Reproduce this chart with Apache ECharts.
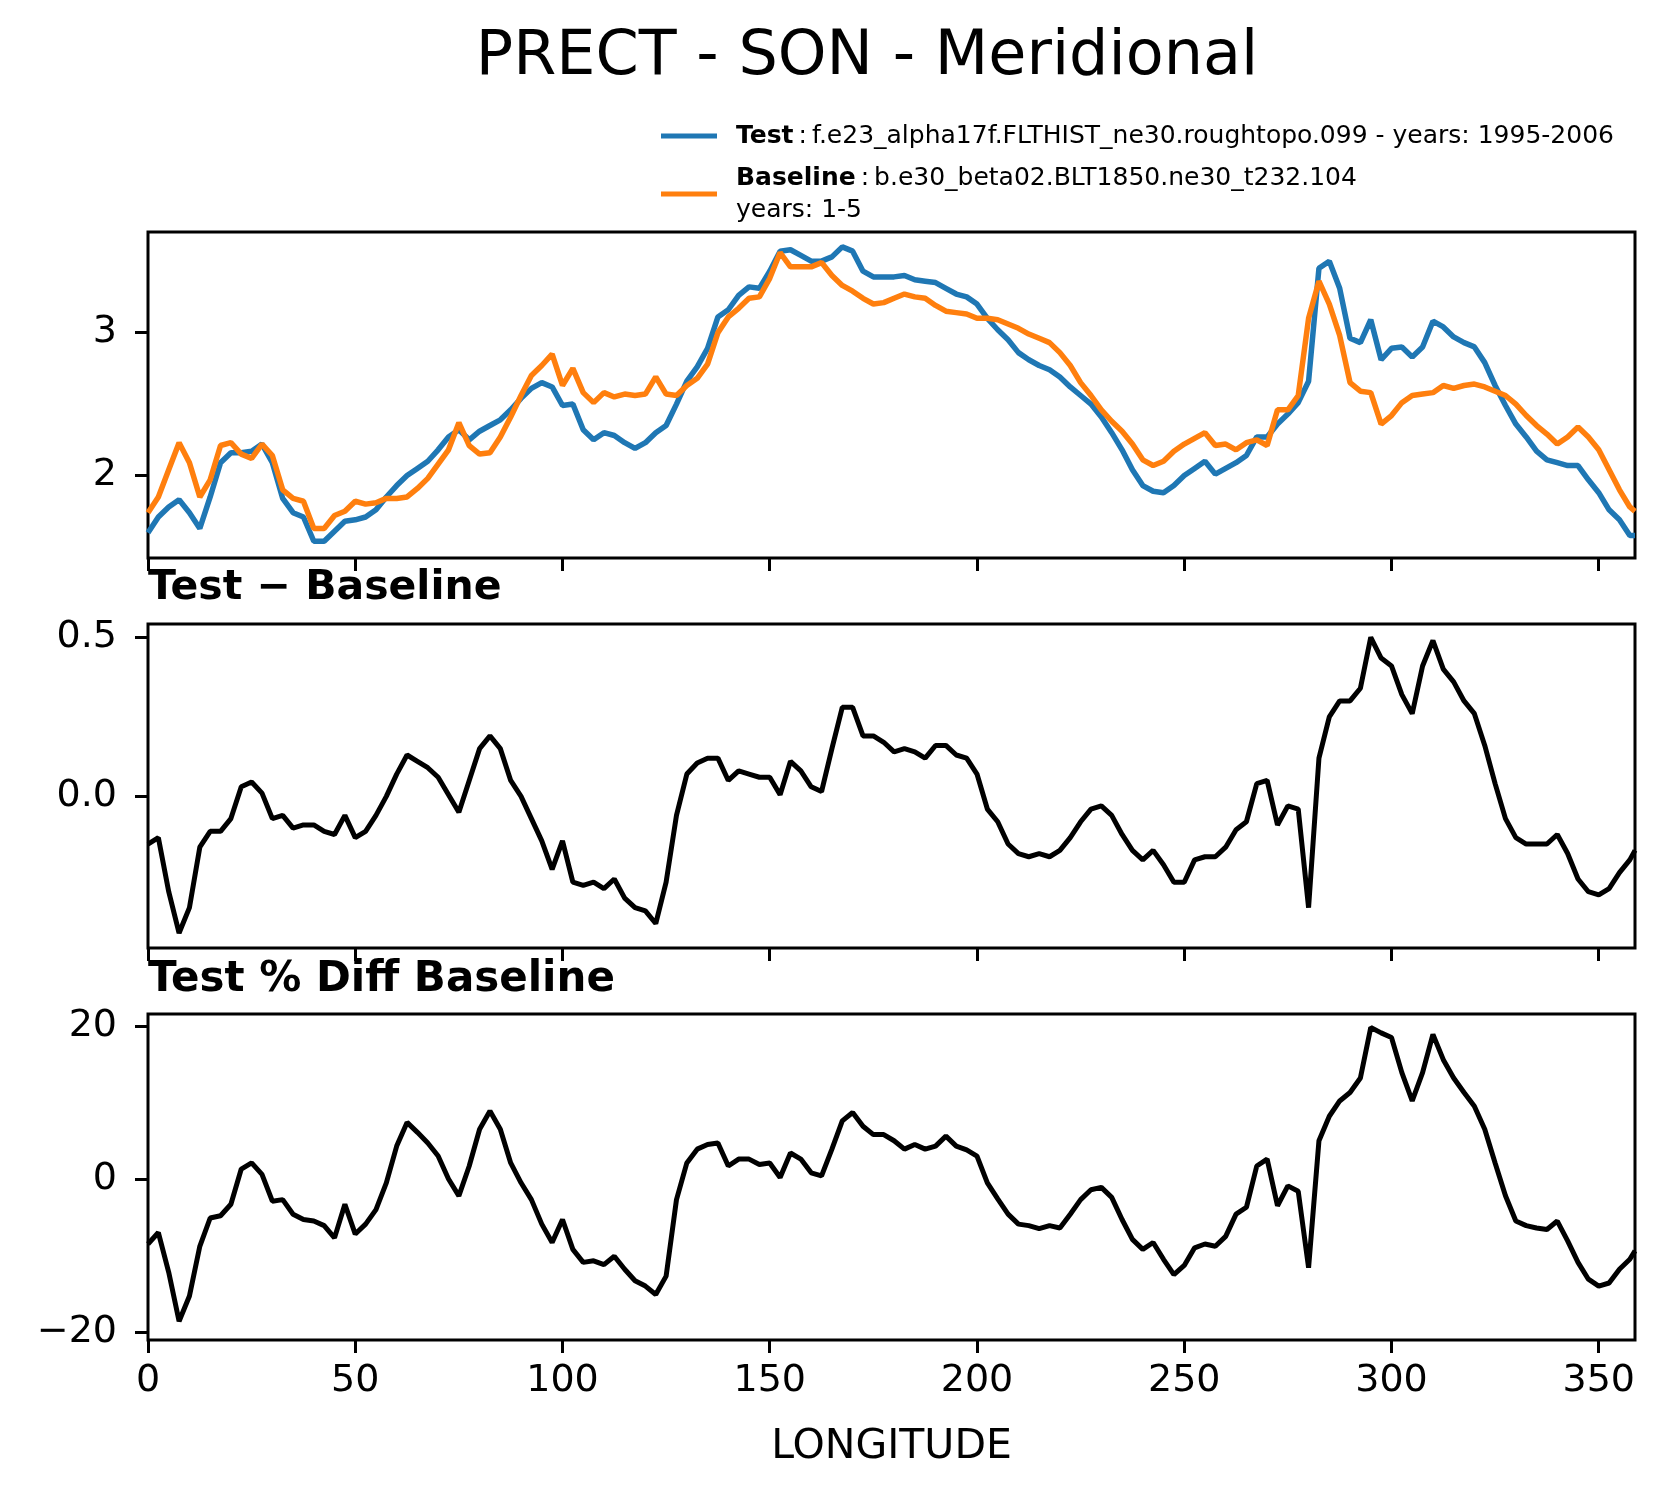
<!DOCTYPE html>
<html>
<head>
<meta charset="utf-8">
<title>PRECT - SON - Meridional</title>
<script src="https://cdn.jsdelivr.net/npm/echarts@6/dist/echarts.min.js"></script>
<style>
  html, body { margin: 0; padding: 0; background: #fff; }
  #chart { width: 1668px; height: 1496px; }
</style>
</head>
<body>
<div id="chart"></div>
<script>
// longitude grid (deg)
var lon = [0, 2.5, 5, 7.5, 10, 12.5, 15, 17.5, 20, 22.5,
  25, 27.5, 30, 32.5, 35, 37.5, 40, 42.5, 45, 47.5,
  50, 52.5, 55, 57.5, 60, 62.5, 65, 67.5, 70, 72.5,
  75, 77.5, 80, 82.5, 85, 87.5, 90, 92.5, 95, 97.5,
  100, 102.5, 105, 107.5, 110, 112.5, 115, 117.5, 120, 122.5,
  125, 127.5, 130, 132.5, 135, 137.5, 140, 142.5, 145, 147.5,
  150, 152.5, 155, 157.5, 160, 162.5, 165, 167.5, 170, 172.5,
  175, 177.5, 180, 182.5, 185, 187.5, 190, 192.5, 195, 197.5,
  200, 202.5, 205, 207.5, 210, 212.5, 215, 217.5, 220, 222.5,
  225, 227.5, 230, 232.5, 235, 237.5, 240, 242.5, 245, 247.5,
  250, 252.5, 255, 257.5, 260, 262.5, 265, 267.5, 270, 272.5,
  275, 277.5, 280, 282.5, 285, 287.5, 290, 292.5, 295, 297.5,
  300, 302.5, 305, 307.5, 310, 312.5, 315, 317.5, 320, 322.5,
  325, 327.5, 330, 332.5, 335, 337.5, 340, 342.5, 345, 347.5,
  350, 352.5, 355, 357.5, 358.75];

// precipitation, test case
var test = [1.60, 1.71, 1.78, 1.83, 1.74, 1.63, 1.85, 2.09, 2.16, 2.16,
  2.17, 2.22, 2.09, 1.84, 1.74, 1.71, 1.54, 1.54, 1.61, 1.68,
  1.69, 1.71, 1.76, 1.85, 1.93, 2.00, 2.05, 2.10, 2.18, 2.27,
  2.32, 2.25, 2.31, 2.35, 2.39, 2.46, 2.54, 2.61, 2.65, 2.62,
  2.49, 2.50, 2.32, 2.25, 2.30, 2.28, 2.23, 2.19, 2.23, 2.30,
  2.35, 2.50, 2.66, 2.76, 2.89, 3.11, 3.16, 3.26, 3.32, 3.31,
  3.43, 3.57, 3.58, 3.54, 3.50, 3.50, 3.53, 3.60, 3.57, 3.43,
  3.39, 3.39, 3.39, 3.40, 3.37, 3.36, 3.35, 3.31, 3.27, 3.25,
  3.20, 3.10, 3.02, 2.95, 2.86, 2.81, 2.77, 2.74, 2.69, 2.62,
  2.56, 2.50, 2.41, 2.30, 2.18, 2.04, 1.93, 1.89, 1.88, 1.93,
  2.00, 2.05, 2.10, 2.01, 2.05, 2.09, 2.14, 2.27, 2.27, 2.36,
  2.43, 2.51, 2.66, 3.45, 3.50, 3.31, 2.96, 2.93, 3.09, 2.81,
  2.89, 2.90, 2.83, 2.90, 3.08, 3.04, 2.97, 2.93, 2.90, 2.79,
  2.63, 2.49, 2.36, 2.27, 2.17, 2.11, 2.09, 2.07, 2.07, 1.97,
  1.88, 1.76, 1.69, 1.58, 1.58];

// precipitation, baseline
var base = [1.74, 1.85, 2.04, 2.23, 2.09, 1.85, 1.97, 2.21, 2.23, 2.15,
  2.12, 2.22, 2.14, 1.90, 1.84, 1.82, 1.63, 1.63, 1.72, 1.75,
  1.82, 1.80, 1.81, 1.84, 1.84, 1.85, 1.91, 1.98, 2.08, 2.18,
  2.37, 2.21, 2.15, 2.16, 2.27, 2.41, 2.56, 2.70, 2.77, 2.85,
  2.63, 2.75, 2.58, 2.51, 2.58, 2.55, 2.57, 2.56, 2.57, 2.69,
  2.57, 2.56, 2.63, 2.68, 2.78, 3.00, 3.11, 3.17, 3.24, 3.25,
  3.38, 3.56, 3.46, 3.46, 3.46, 3.49, 3.40, 3.33, 3.29, 3.24,
  3.20, 3.21, 3.24, 3.27, 3.25, 3.24, 3.19, 3.15, 3.14, 3.13,
  3.10, 3.10, 3.09, 3.06, 3.03, 2.99, 2.96, 2.93, 2.86, 2.77,
  2.65, 2.56, 2.46, 2.38, 2.31, 2.22, 2.11, 2.07, 2.10, 2.17,
  2.22, 2.26, 2.30, 2.21, 2.22, 2.18, 2.23, 2.25, 2.21, 2.46,
  2.46, 2.56, 3.10, 3.36, 3.20, 2.98, 2.65, 2.59, 2.58, 2.36,
  2.42, 2.51, 2.56, 2.57, 2.58, 2.63, 2.61, 2.63, 2.64, 2.62,
  2.59, 2.56, 2.50, 2.42, 2.35, 2.29, 2.22, 2.27, 2.34, 2.27,
  2.18, 2.04, 1.90, 1.78, 1.75];

// test - baseline
var diff = [-0.15, -0.13, -0.30, -0.43, -0.35, -0.16, -0.11, -0.11, -0.07, 0.03,
  0.045, 0.01, -0.07, -0.06, -0.10, -0.09, -0.09, -0.11, -0.12, -0.06,
  -0.13, -0.11, -0.06, 0.00, 0.07, 0.13, 0.11, 0.09, 0.06, 0.005,
  -0.05, 0.05, 0.15, 0.19, 0.15, 0.05, 0.00, -0.07, -0.14, -0.23,
  -0.14, -0.27, -0.28, -0.27, -0.29, -0.26, -0.32, -0.35, -0.36, -0.40,
  -0.27, -0.06, 0.07, 0.105, 0.12, 0.12, 0.05, 0.08, 0.07, 0.06,
  0.06, 0.005, 0.11, 0.08, 0.03, 0.015, 0.15, 0.28, 0.28, 0.19,
  0.19, 0.17, 0.14, 0.15, 0.14, 0.12, 0.16, 0.16, 0.13, 0.12,
  0.07, -0.04, -0.08, -0.15, -0.18, -0.19, -0.18, -0.19, -0.17, -0.13,
  -0.08, -0.04, -0.03, -0.06, -0.12, -0.17, -0.20, -0.17, -0.215, -0.27,
  -0.27, -0.20, -0.19, -0.19, -0.16, -0.105, -0.08, 0.04, 0.05, -0.09,
  -0.03, -0.04, -0.35, 0.12, 0.25, 0.30, 0.30, 0.34, 0.50, 0.435,
  0.41, 0.32, 0.26, 0.41, 0.49, 0.40, 0.36, 0.30, 0.26, 0.16,
  0.04, -0.07, -0.13, -0.15, -0.15, -0.15, -0.12, -0.18, -0.26, -0.30,
  -0.31, -0.29, -0.24, -0.20, -0.17];

// test % diff baseline
var pctDiff = [-8.5, -7.0, -12.2, -18.6, -15.3, -8.8, -5.1, -4.8, -3.3, 1.3,
  2.1, 0.6, -2.9, -2.7, -4.6, -5.3, -5.5, -6.1, -7.7, -3.3,
  -7.2, -5.9, -4.0, -0.5, 4.3, 7.4, 6.1, 4.7, 3.0, 0.0,
  -2.2, 1.7, 6.5, 8.9, 6.5, 2.1, -0.5, -2.7, -5.9, -8.3,
  -5.3, -9.2, -10.9, -10.7, -11.2, -10.1, -11.8, -13.3, -14.0, -15.1,
  -12.7, -2.7, 2.1, 3.9, 4.5, 4.7, 1.7, 2.6, 2.6, 1.9,
  2.1, 0.2, 3.4, 2.6, 0.8, 0.4, 3.9, 7.6, 8.7, 6.9,
  5.8, 5.8, 5.0, 3.9, 4.5, 3.9, 4.3, 5.6, 4.3, 3.8,
  3.0, -0.5, -2.6, -4.6, -5.9, -6.1, -6.5, -6.1, -6.4, -4.6,
  -2.7, -1.4, -1.1, -2.4, -5.3, -7.9, -9.2, -8.3, -10.5, -12.5,
  -11.3, -9.0, -8.5, -8.8, -7.5, -4.6, -3.7, 1.7, 2.6, -3.5,
  -0.9, -1.6, -11.6, 5.0, 8.2, 10.2, 11.3, 13.2, 19.8, 19.1,
  18.5, 13.9, 10.2, 13.9, 18.9, 15.6, 13.2, 11.3, 9.5, 6.5,
  2.1, -2.2, -5.5, -6.1, -6.4, -6.6, -5.5, -8.1, -10.9, -13.1,
  -14.0, -13.6, -11.8, -10.5, -9.4];

var lonTicks = [0, 50, 100, 150, 200, 250, 300, 350];
var topTicks = [2, 3];
var diffTicks = [0, 0.5];
var pctTicks = [-20, 0, 20];

var FONT = 'DejaVu Sans';
var chart = echarts.init(document.getElementById('chart'));

function pairs(ys) {
  return lon.map(function (x, i) { return [x, ys[i]]; });
}

function makeGrid(top, height) {
  return { left: 148, right: 33, top: top, height: height, show: true,
    borderColor: '#000', borderWidth: 3, backgroundColor: 'transparent' };
}

function makeX(idx, showLabel) {
  return {
    type: 'value', gridIndex: idx, min: 0, max: 358.75,
    axisLine: { show: false, onZero: false },
    axisTick: { show: true, length: 13, customValues: lonTicks,
      lineStyle: { color: '#000', width: 3 } },
    axisLabel: { show: showLabel, customValues: lonTicks, margin: 22,
      color: '#000', fontSize: 38, fontFamily: FONT },
    splitLine: { show: false },
    name: showLabel ? 'LONGITUDE' : '',
    nameLocation: 'middle', nameGap: 87,
    nameTextStyle: { color: '#000', fontSize: 41, fontFamily: FONT }
  };
}

function makeY(idx, min, max, ticks, fmt) {
  return {
    type: 'value', gridIndex: idx, min: min, max: max,
    axisLine: { show: false, onZero: false },
    axisTick: { show: true, length: 13, customValues: ticks,
      lineStyle: { color: '#000', width: 3 } },
    axisLabel: { customValues: ticks, margin: 31, color: '#000',
      fontSize: 38, fontFamily: FONT, formatter: fmt },
    splitLine: { show: false }
  };
}

var option = {
  animation: false,
  backgroundColor: '#fff',
  title: [
    { text: 'PRECT - SON - Meridional', left: 862, top: 22, textAlign: 'center',
      textStyle: { fontFamily: FONT, fontSize: 62, fontWeight: 'normal', color: '#000' } },
    { text: 'Test \u2212 Baseline', left: 143, top: 563,
      textStyle: { fontFamily: FONT, fontSize: 41, fontWeight: 'bold', color: '#000' } },
    { text: 'Test % Diff Baseline', left: 143, top: 954,
      textStyle: { fontFamily: FONT, fontSize: 42, fontWeight: 'bold', color: '#000' } }
  ],
  legend: {
    data: ['Test', 'Baseline'],
    orient: 'vertical', left: 656, top: 115, itemGap: 10,
    icon: 'rect', itemWidth: 56, itemHeight: 5,
    formatter: function (name) {
      if (name === 'Test') {
        return '{b|Test}{n|\u2009:\u2009f.e23_alpha17f.FLTHIST_ne30.roughtopo.099 - years: 1995-2006}';
      }
      return '{b|Baseline}{n|\u2009:\u2009b.e30_beta02.BLT1850.ne30_t232.104}\n{y|years: 1-5}';
    },
    textStyle: {
      color: '#000', fontFamily: FONT, fontSize: 25, lineHeight: 32,
      rich: {
        b: { fontFamily: FONT, fontSize: 25, fontWeight: 'bold', color: '#000', lineHeight: 32, padding: [0, 0, 0, 14] },
        n: { fontFamily: FONT, fontSize: 25, color: '#000', lineHeight: 32 },
        y: { fontFamily: FONT, fontSize: 25, color: '#000', lineHeight: 32, padding: [0, 0, 0, 14] }
      }
    }
  },
  grid: [makeGrid(232, 326), makeGrid(624, 324), makeGrid(1014, 326)],
  xAxis: [makeX(0, false), makeX(1, false), makeX(2, true)],
  yAxis: [
    makeY(0, 1.423, 3.704, topTicks, function (v) { return String(v); }),
    makeY(1, -0.477, 0.542, diffTicks, function (v) { return v.toFixed(1); }),
    makeY(2, -21.05, 21.57, pctTicks, function (v) { return String(v).replace('-', '\u2212'); })
  ],
  series: [
    { name: 'Test', type: 'line', xAxisIndex: 0, yAxisIndex: 0, data: pairs(test),
      showSymbol: false, color: '#1f77b4', lineStyle: { color: '#1f77b4', width: 5.5 } },
    { name: 'Baseline', type: 'line', xAxisIndex: 0, yAxisIndex: 0, data: pairs(base),
      showSymbol: false, color: '#ff7f0e', lineStyle: { color: '#ff7f0e', width: 5.5 } },
    { name: 'diff', type: 'line', xAxisIndex: 1, yAxisIndex: 1, data: pairs(diff),
      showSymbol: false, color: '#000', lineStyle: { color: '#000', width: 5 } },
    { name: 'pct', type: 'line', xAxisIndex: 2, yAxisIndex: 2, data: pairs(pctDiff),
      showSymbol: false, color: '#000', lineStyle: { color: '#000', width: 5 } }
  ]
};

chart.setOption(option);
</script>
</body>
</html>
